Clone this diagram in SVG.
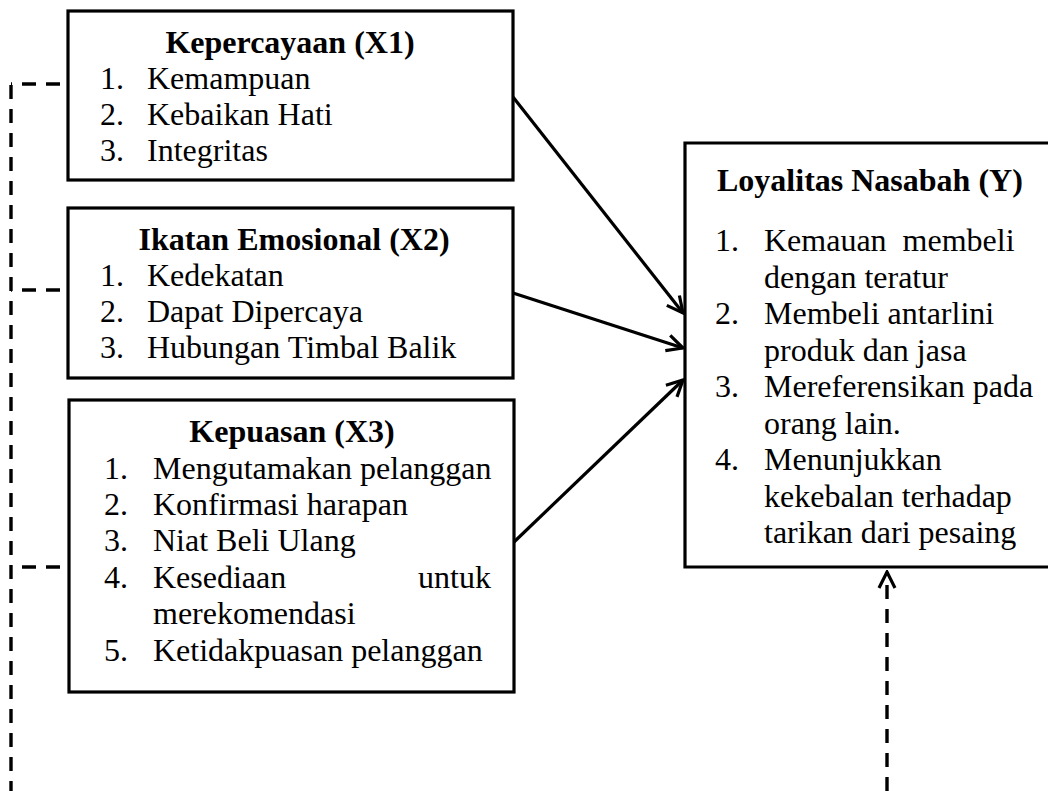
<svg xmlns="http://www.w3.org/2000/svg" width="1048" height="791" viewBox="0 0 1048 791">
<defs>
<style>
.box{fill:#fff;stroke:#000;stroke-width:3.2}
.t{font-family:"Liberation Serif","Times New Roman",serif;font-size:32px;fill:#000}
.b{font-weight:bold}
.m{text-anchor:middle}
.e{text-anchor:end}
.sol{stroke:#000;stroke-width:3.2;fill:none}
.dash{stroke:#000;stroke-width:3.4;fill:none;stroke-dasharray:14 10}
</style>
<marker id="ah" viewBox="-20 -10 22 20" refX="0" refY="0" markerWidth="22" markerHeight="20" markerUnits="userSpaceOnUse" orient="auto">
<path d="M-16,-8 L0,0 L-16,8" fill="none" stroke="#000" stroke-width="3.2" stroke-linejoin="miter"/>
</marker>
</defs>
<rect width="1048" height="791" fill="#fff"/>

<g id="connectors">
<line class="sol" x1="513" y1="97" x2="683" y2="313" marker-end="url(#ah)"/>
<line class="sol" x1="513" y1="293" x2="683" y2="348" marker-end="url(#ah)"/>
<line class="sol" x1="514" y1="542" x2="683" y2="380" marker-end="url(#ah)"/>
<line class="dash" x1="11" y1="85" x2="11" y2="791"/>
<line class="dash" x1="60" y1="84" x2="11" y2="84"/>
<line class="dash" x1="60" y1="290" x2="11" y2="290"/>
<line class="dash" x1="60" y1="567" x2="11" y2="567"/>
<line class="dash" x1="887" y1="791" x2="887" y2="572" marker-end="url(#ah)"/>
</g>

<g id="x1">
<rect class="box" x="68" y="11" width="445" height="169"/>
<text class="t b m" x="290" y="53">Kepercayaan (X1)</text>
<text class="t" x="100" y="89">1.</text><text class="t" x="147" y="89">Kemampuan</text>
<text class="t" x="100" y="125">2.</text><text class="t" x="147" y="125">Kebaikan Hati</text>
<text class="t" x="100" y="161">3.</text><text class="t" x="147" y="161">Integritas</text>
</g>

<g id="x2">
<rect class="box" x="68" y="208" width="445" height="170"/>
<text class="t b m" x="294" y="250">Ikatan Emosional (X2)</text>
<text class="t" x="100" y="286">1.</text><text class="t" x="147" y="286">Kedekatan</text>
<text class="t" x="100" y="322">2.</text><text class="t" x="147" y="322">Dapat Dipercaya</text>
<text class="t" x="100" y="358">3.</text><text class="t" x="147" y="358">Hubungan Timbal Balik</text>
</g>

<g id="x3">
<rect class="box" x="69" y="400" width="445" height="292"/>
<text class="t b m" x="292" y="442">Kepuasan (X3)</text>
<text class="t" x="104" y="479">1.</text><text class="t" x="153" y="479">Mengutamakan pelanggan</text>
<text class="t" x="104" y="515">2.</text><text class="t" x="153" y="515">Konfirmasi harapan</text>
<text class="t" x="104" y="551">3.</text><text class="t" x="153" y="551">Niat Beli Ulang</text>
<text class="t" x="104" y="588">4.</text><text class="t" x="153" y="588">Kesediaan</text><text class="t e" x="491" y="588">untuk</text>
<text class="t" x="153" y="624">merekomendasi</text>
<text class="t" x="104" y="661">5.</text><text class="t" x="153" y="661">Ketidakpuasan pelanggan</text>
</g>

<g id="y">
<rect x="685" y="143" width="363" height="424" fill="#fff"/>
<path class="sol" d="M1048,143 H685 V567 H1048"/>
<text class="t b" x="717" y="191">Loyalitas Nasabah (Y)</text>
<text class="t" x="715" y="251">1.</text><text class="t" x="764" y="251" xml:space="preserve">Kemauan  membeli</text>
<text class="t" x="764" y="287.5">dengan teratur</text>
<text class="t" x="715" y="324">2.</text><text class="t" x="764" y="324">Membeli antarlini</text>
<text class="t" x="764" y="360.5">produk dan jasa</text>
<text class="t" x="715" y="397">3.</text><text class="t" x="764" y="397">Mereferensikan pada</text>
<text class="t" x="764" y="433.5">orang lain.</text>
<text class="t" x="715" y="470">4.</text><text class="t" x="764" y="470">Menunjukkan</text>
<text class="t" x="764" y="506.5">kekebalan terhadap</text>
<text class="t" x="764" y="543">tarikan dari pesaing</text>
</g>
</svg>
